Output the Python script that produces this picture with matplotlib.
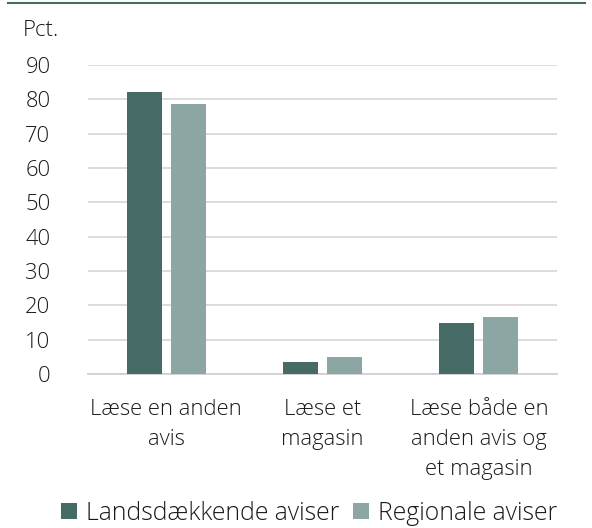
import numpy as np
import matplotlib
matplotlib.use("Agg")
import matplotlib.pyplot as plt
from matplotlib.lines import Line2D

# data
categories = ["Læse en anden\navis", "Læse et\nmagasin", "Læse både en\nanden avis og\net magasin"]
landsdaekkende = [82.1, 3.4, 14.9]
regionale = [78.6, 4.9, 16.6]
series_names = ["Landsdækkende aviser", "Regionale aviser"]
yticks = list(range(0, 100, 10))

dark = "#466b67"
light = "#8ba6a3"

plt.rcParams['font.family'] = ['Open Sans', 'DejaVu Sans']
plt.rcParams['font.weight'] = 'light'

fig = plt.figure(figsize=(5.92, 5.28), dpi=100)
ax = fig.add_axes([88 / 592, 1 - 374 / 528, 469 / 592, (374 - 65) / 528])

x = np.arange(len(categories))
w = 0.224
off = 0.141
ax.bar(x - off, landsdaekkende, w, color=dark, label=series_names[0], zorder=3)
ax.bar(x + off, regionale, w, color=light, label=series_names[1], zorder=3)

ax.set_xlim(-0.5, 2.5)
ax.set_ylim(0, 90)
ax.set_yticks(yticks)
ax.yaxis.grid(True, color="#d9d9d9", linewidth=1.3, zorder=0)
for s in ["top", "right", "left"]:
    ax.spines[s].set_visible(False)
ax.spines["bottom"].set_color("#d0d0d0")
ax.spines["bottom"].set_linewidth(1.3)
ax.tick_params(axis="both", length=0, labelsize=15.8, colors="#1a1a1a")
ax.tick_params(axis="y", pad=27)
ax.tick_params(axis="x", pad=18)
for lab in ax.get_yticklabels():
    lab.set_horizontalalignment("right")
ax.set_xticks(x)
ax.set_xticklabels(categories, linespacing=1.55)

fig.text(23 / 592, 1 - 30 / 528, "Pct.", fontsize=16, color="#1a1a1a", va="center", ha="left")

# thin rule at top
fig.add_artist(Line2D([8 / 592, 585 / 592], [1 - 2.5 / 528] * 2, color="#466b67", linewidth=1.5))

fig.legend(loc="center", bbox_to_anchor=(309 / 592, 1 - 513 / 528), ncol=2, frameon=False,
           fontsize=17.8, handlelength=0.65, handleheight=0.65, handletextpad=0.35,
           columnspacing=0.55, labelcolor="#1a1a1a")

fig.savefig("out.png", dpi=100)
